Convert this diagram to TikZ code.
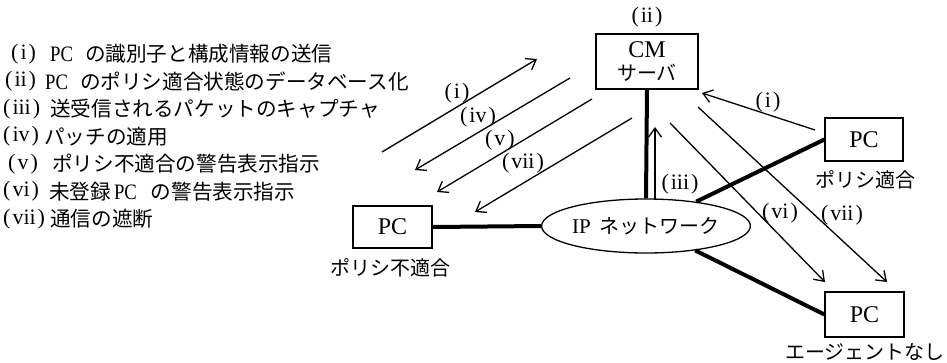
\documentclass[tikz,border=0pt]{standalone}
\usepackage{fontspec}
\setmainfont{Liberation Serif}
\newfontfamily\jpf{Noto Sans CJK JP}
\newfontfamily\latc[FakeStretch=0.85]{Liberation Serif}
\usetikzlibrary{arrows.meta,shapes.geometric}
\newcommand\jp[1]{{\jpf\fontsize{20}{24}\selectfont #1}}
\newcommand\jpl[1]{{\jpf\fontsize{20.6}{25}\selectfont #1}}
\newcommand\lab[1]{(\kern2pt #1\kern2pt)}
\tikzset{
  box/.style={draw,line width=1.3pt,inner sep=0pt,font=\fontsize{24}{26}\selectfont},
  net/.style={draw,ellipse,line width=1.3pt,inner sep=0pt,minimum width=198pt,minimum height=54pt,font=\fontsize{21}{24}\selectfont},
  thick link/.style={line width=4pt},
  msg/.style={line width=1.3pt,-{Straight Barb[length=9pt,width=13pt,line width=1.3pt]}},
  arrlab/.style={inner sep=0pt,font=\fontsize{22}{24}\selectfont},
  leglab/.style={anchor=west,inner sep=0pt,font=\fontsize{22}{24}\selectfont},
  legtext/.style={anchor=west,inner sep=0pt,font=\latc\fontsize{22}{24}\selectfont},
  caption/.style={inner sep=0pt}
}
\begin{document}
\begin{tikzpicture}[x=1pt,y=-1pt]
\useasboundingbox (0,0) rectangle (947,362);
% legend
\node[leglab] (k1) at (11,54)   {\lab{i}};
\node[legtext] (l1) at (50,54)   {PC\hspace{12pt}\jpl{の識別子と構成情報の送信}};
\node[leglab] (k2) at (5,81.5)  {\lab{ii}};
\node[legtext] (l2) at (45,81.5) {PC\hspace{12pt}\jpl{のポリシ適合状態のデータベース化}};
\node[leglab] (k3) at (3,109)   {\lab{iii}};
\node[legtext] (l3) at (50,109)  {\jpl{送受信されるパケットのキャプチャ}};
\node[leglab] (k4) at (3,136.5) {\lab{iv}};
\node[legtext] (l4) at (44,136.5){\jpl{パッチの適用}};
\node[leglab] (k5) at (8,164)   {\lab{v}};
\node[legtext] (l5) at (52,164)  {\jpl{ポリシ不適合の警告表示指示}};
\node[leglab] (k6) at (3,191.5) {\lab{vi}};
\node[legtext] (l6) at (49,191.5){\jpl{未登録}\hspace{3pt}PC\hspace{14pt}\jpl{の警告表示指示}};
\node[leglab] (k7) at (3,219)   {\lab{vii}};
\node[legtext] (l7) at (50,219)  {\jpl{通信の遮断}};
% nodes
\node[box,minimum width=102pt,minimum height=55pt,align=center] (cm) at (647,61.5)
  {CM\\[-3pt]\jp{サーバ}};
\node[arrlab] (cmlab) at (647,17) {\lab{ii}};
\node[net] (net) at (646,226) {IP\hspace{9pt}\jp{ネットワーク}};
\node[box,minimum width=79pt,minimum height=42pt] (pcn) at (392.5,227) {PC};
\node[caption] (pcnlab) at (390,268) {\jp{ポリシ不適合}};
\node[box,minimum width=78pt,minimum height=43pt] (pcc) at (864,139.5) {PC};
\node[caption] (pcclab) at (865,180) {\jp{ポリシ適合}};
\node[box,minimum width=79pt,minimum height=45pt] (pca) at (864.5,314.5) {PC};
\node[caption] (pcalab) at (865,352) {\jp{エージェントなし}};
% thick links
\draw[thick link] (cm.south) -- (net.north);
\draw[thick link] (pcn.east) -- (net.west);
\draw[thick link] (net) -- (pcc.west);
\draw[thick link] (net) -- (pca.west);
% message arrow end points
\coordinate (a1s) at (382,152); \coordinate (a1e) at (537,59);
\coordinate (a4s) at (570,78);  \coordinate (a4e) at (415,170);
\coordinate (a5s) at (592,99);  \coordinate (a5e) at (437,192);
\coordinate (a7s) at (632,118); \coordinate (a7e) at (475,212);
\coordinate (r1s) at (815,130); \coordinate (r1e) at (702,93);
\coordinate (r3s) at (655,200); \coordinate (r3e) at (655,127);
\coordinate (r6s) at (670,123); \coordinate (r6e) at (825,282);
\coordinate (r7s) at (698,107); \coordinate (r7e) at (887,282);
\draw[msg] (a1s) -- (a1e);
\draw[msg] (a4s) -- (a4e);
\draw[msg] (a5s) -- (a5e);
\draw[msg] (a7s) -- (a7e);
\draw[msg] (r1s) -- (r1e);
\draw[msg] (r3s) -- (r3e);
\draw[msg] (r6s) -- (r6e);
\draw[msg] (r7s) -- (r7e);
% arrow labels
\node[arrlab] (t1) at (457,93) {\lab{i}};
\node[arrlab] (t4) at (478,117) {\lab{iv}};
\node[arrlab] (t5) at (500,140) {\lab{v}};
\node[arrlab] (t7) at (523,163) {\lab{vii}};
\node[arrlab] (u1) at (768,102) {\lab{i}};
\node[arrlab] (u3) at (680,184) {\lab{iii}};
\node[arrlab] (u6) at (780,213) {\lab{vi}};
\node[arrlab] (u7) at (842,215) {\lab{vii}};
\end{tikzpicture}
\end{document}
